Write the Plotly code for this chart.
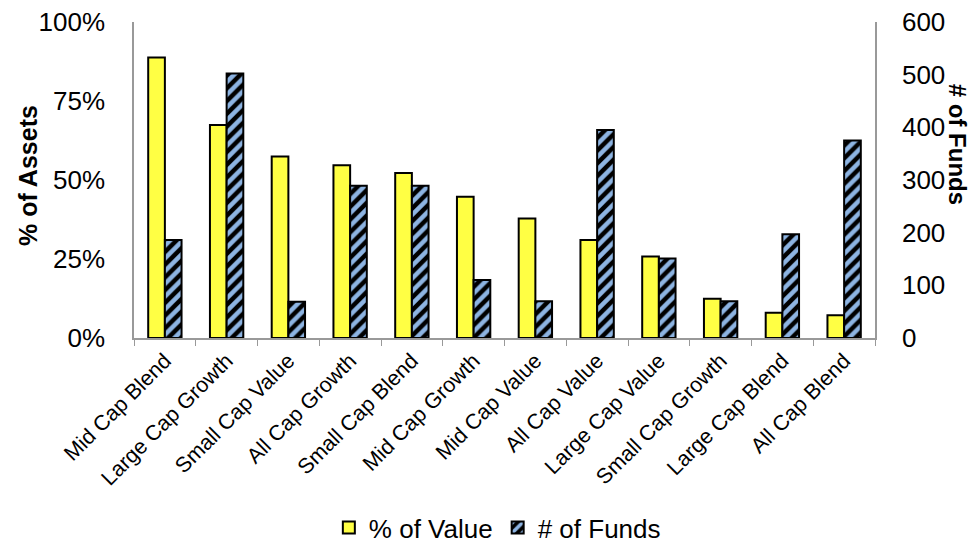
import plotly.graph_objects as go

categories = ["Mid Cap Blend", "Large Cap Growth", "Small Cap Value", "All Cap Growth",
              "Small Cap Blend", "Mid Cap Growth", "Mid Cap Value", "All Cap Value",
              "Large Cap Value", "Small Cap Growth", "Large Cap Blend", "All Cap Blend"]
pct_value = [0.888, 0.674, 0.574, 0.547, 0.522, 0.447, 0.378, 0.310, 0.258, 0.124, 0.080, 0.072]
num_funds = [186, 502, 69, 289, 289, 110, 70, 395, 151, 70, 197, 375]

FONT = "Liberation Sans, Arial, sans-serif"

fig = go.Figure()
fig.add_trace(go.Bar(
    x=categories, y=pct_value, name="% of Value", yaxis="y", offsetgroup="a",
    marker=dict(color="#FFFF44", line=dict(color="black", width=2)),
))
fig.add_trace(go.Bar(
    x=categories, y=num_funds, name="# of Funds", yaxis="y2", offsetgroup="b",
    marker=dict(color="black", line=dict(color="black", width=2),
                pattern=dict(shape="/", fgcolor="#8DB4E2", bgcolor="black",
                             size=9, solidity=0.5, fillmode="replace")),
))

fig.update_layout(
    width=969, height=540,
    margin=dict(l=126, r=102, t=14, b=210, autoexpand=False),
    paper_bgcolor="white", plot_bgcolor="white",
    font=dict(family=FONT, color="black", size=22),
    barmode="group", bargap=0.46, bargroupgap=0,
    showlegend=True,
    legend=dict(orientation="h", xref="container", yref="container",
                x=0.505, xanchor="center", y=0.038, yanchor="middle",
                font=dict(size=26), itemwidth=30, traceorder="normal"),
    xaxis=dict(
        automargin=False,
        showline=True, linecolor="#999999", linewidth=1.5,
        ticks="outside", tickson="boundaries", ticklen=6, tickcolor="#999999",
        tickangle=-45, tickfont=dict(size=21.5), showgrid=False,
        ticklabeloverflow="allow",
    ),
    yaxis=dict(
        automargin=False,
        range=[0, 1], tickvals=[0, 0.25, 0.5, 0.75, 1.0], tickformat=".0%",
        showline=True, linecolor="#999999", linewidth=1.5, showgrid=False,
        ticks="", tickfont=dict(size=26), zeroline=False, ticklabelstandoff=22,
        ticklabeloverflow="allow",
    ),
    yaxis2=dict(
        automargin=False,
        range=[0, 600], tickvals=[0, 100, 200, 300, 400, 500, 600],
        overlaying="y", side="right", anchor="x",
        showline=True, linecolor="#999999", linewidth=1.5, showgrid=False,
        ticks="", tickfont=dict(size=26), zeroline=False, ticklabelstandoff=20,
        ticklabeloverflow="allow",
    ),
    annotations=[
        dict(text="<b>% of Assets</b>", xref="paper", yref="paper",
             x=-0.143, y=0.513, xanchor="center", yanchor="middle",
             textangle=-90, showarrow=False, font=dict(size=25)),
        dict(text="<b># of Funds</b>", xref="paper", yref="paper",
             x=1.111, y=0.614, xanchor="center", yanchor="middle",
             textangle=90, showarrow=False, font=dict(size=24)),
    ],
)

fig.write_html("out.html")
